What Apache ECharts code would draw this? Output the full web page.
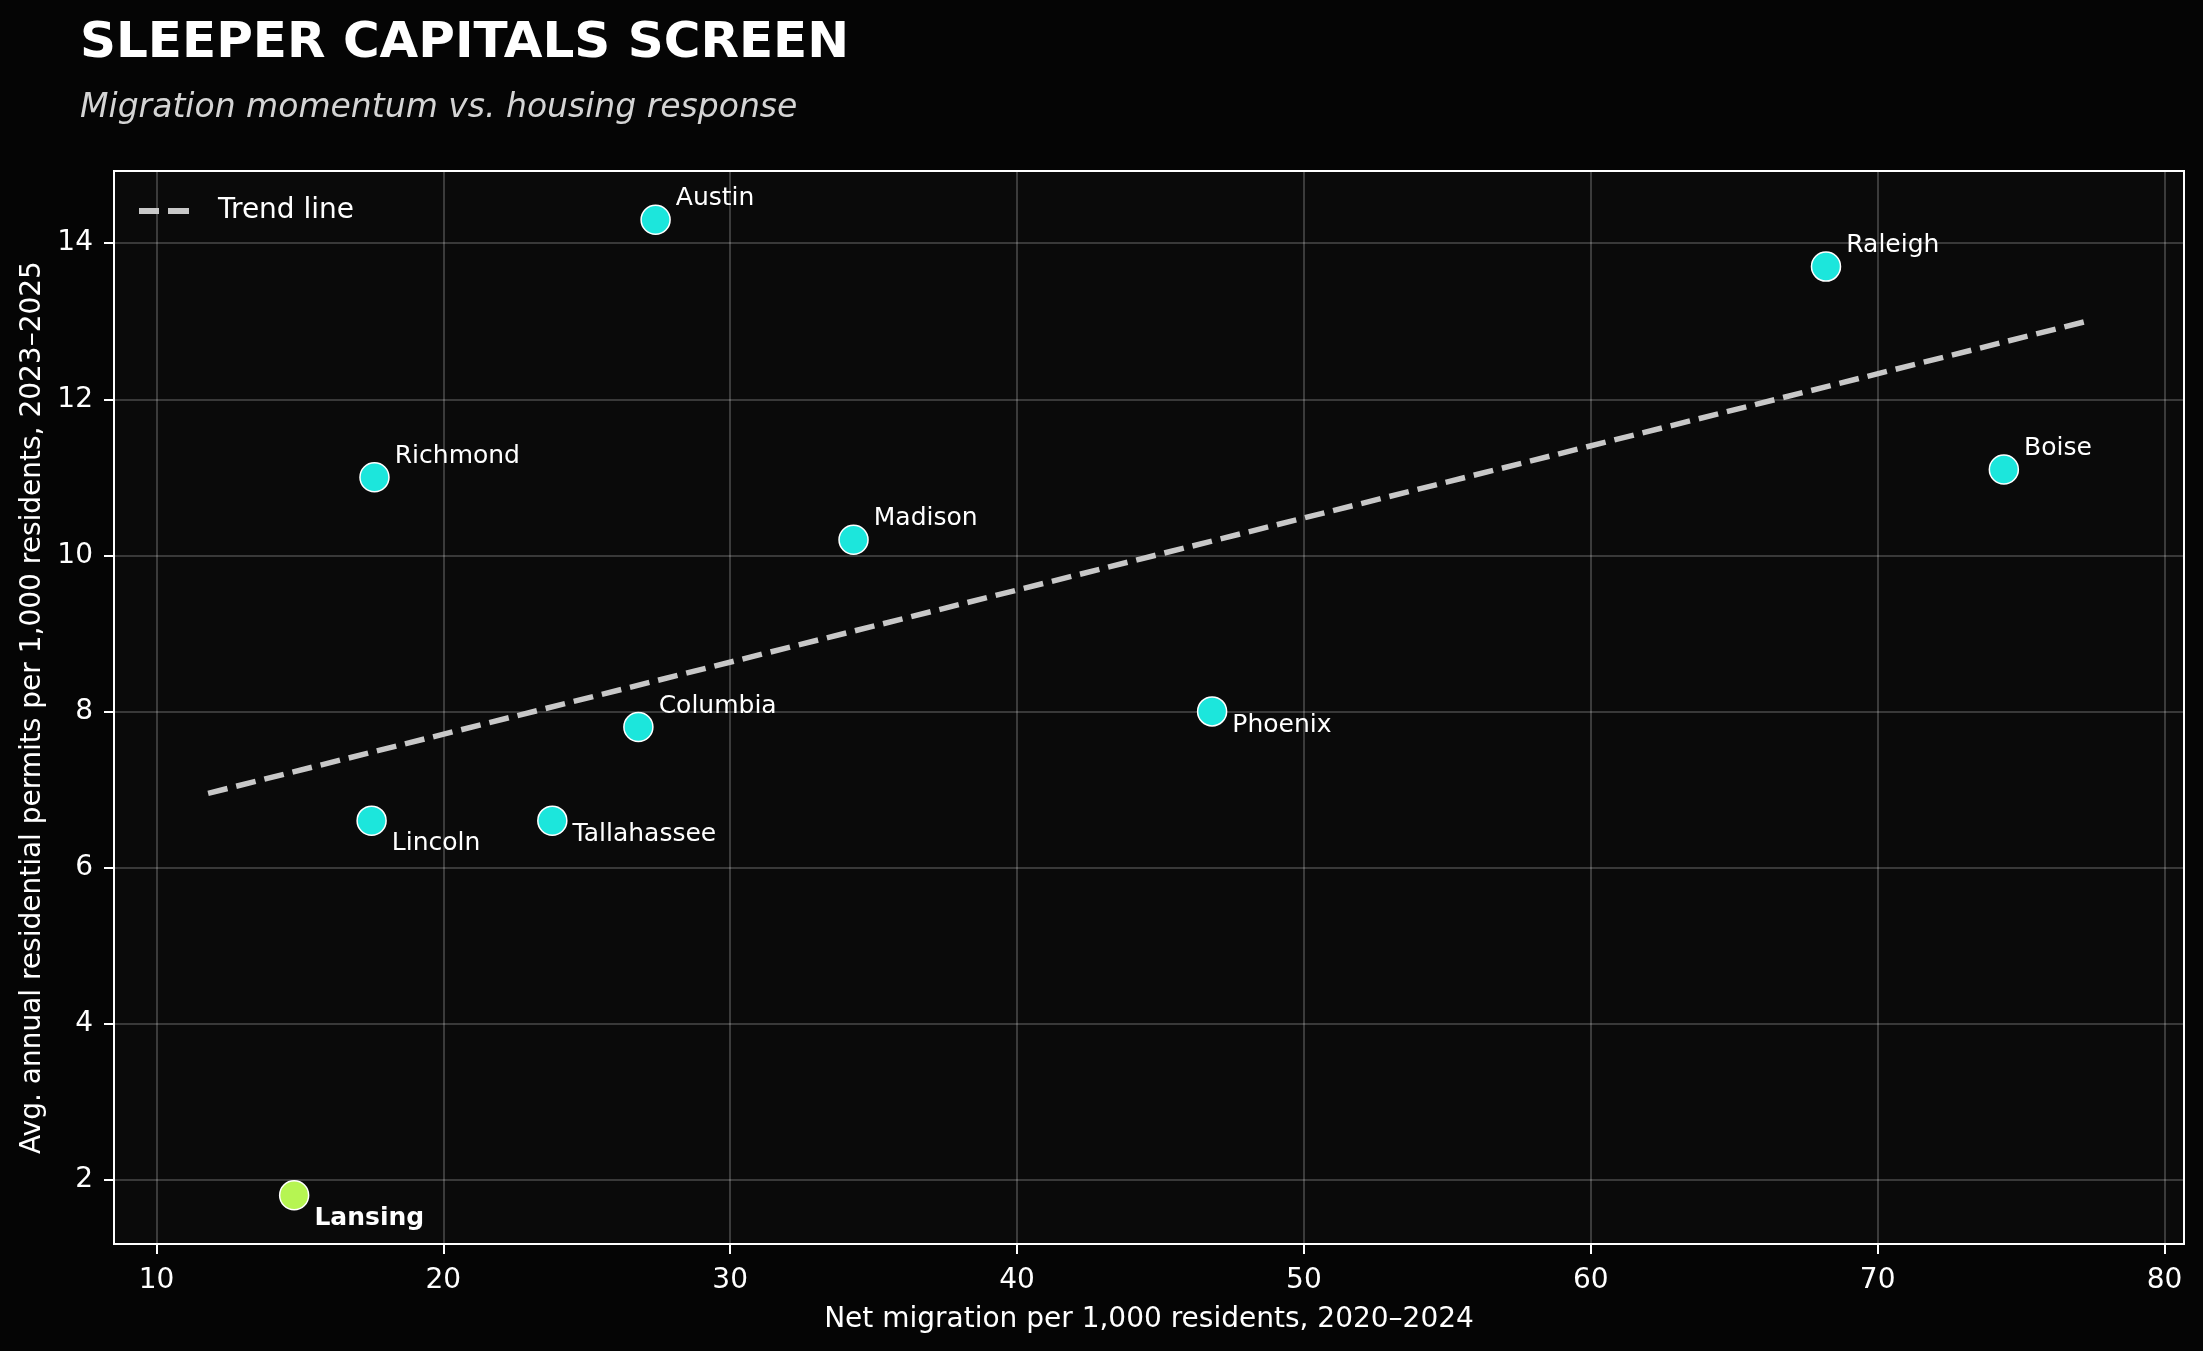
<!DOCTYPE html>
<html>
<head>
<meta charset="utf-8">
<script src="https://cdn.jsdelivr.net/npm/echarts@6/dist/echarts.min.js"></script>
<style>
html,body{margin:0;padding:0;background:#050505;}
#chart{width:2203px;height:1351px;}
</style>
</head>
<body>
<div id="chart"></div>
<script>
// ---- Data ----
const cities = ['Austin','Raleigh','Boise','Richmond','Madison','Columbia','Phoenix','Lincoln','Tallahassee','Lansing'];
const netMigration = [27.4, 68.2, 74.4, 17.6, 34.3, 26.8, 46.8, 17.5, 23.8, 14.8];
const permits = [14.3, 13.7, 11.1, 11.0, 10.2, 7.8, 8.0, 6.6, 6.6, 1.8];
const highlighted = ['Lansing'];
const trendX = [11.8, 77.4];
const trendY = [6.95, 13.01];
const xTicks = [10, 20, 30, 40, 50, 60, 70, 80];
const yTicks = [2, 4, 6, 8, 10, 12, 14];

// ---- Label placement (styling, not data) ----
const labelDy = { Phoenix: 14, Tallahassee: 14, Lincoln: 23, Lansing: 23 };
const LABEL_DY_ABOVE = -21;
const FONT = 'DejaVu Sans';
const CYAN = '#1ce6dc';
const LIME = '#b6f552';
const TREND = '#c8c8c8';

const chart = echarts.init(document.getElementById('chart'), null, {renderer: 'canvas'});

const scatterData = cities.map((c, i) => {
  const hi = highlighted.includes(c);
  return {
    name: c,
    value: [netMigration[i], permits[i]],
    itemStyle: { color: hi ? LIME : CYAN },
    label: {
      offset: [0, labelDy[c] !== undefined ? labelDy[c] : LABEL_DY_ABOVE],
      fontWeight: hi ? 'bold' : 'normal'
    }
  };
});

const axisCommon = {
  type: 'value',
  axisLine: { show: true, lineStyle: { color: '#ffffff', width: 2 } },
  axisTick: { show: true, length: 10, lineStyle: { color: '#ffffff', width: 2 } },
  splitLine: { show: true, lineStyle: { color: 'rgba(255,255,255,0.26)', width: 1.6 } },
  axisLabel: { color: '#ffffff', fontFamily: FONT, fontSize: 28 },
  nameTextStyle: { color: '#ffffff', fontFamily: FONT, fontSize: 28 },
  nameLocation: 'middle'
};

// dashed legend swatch (two dashes, centred in a 50x40 box)
const dashIcon = 'path://M0,17H20V23H0Z M29,17H50V23H29Z M0,0H0.01V0.01H0Z M49.99,39.99H50V40H49.99Z';

const option = {
  backgroundColor: '#050505',
  animation: false,
  textStyle: { fontFamily: FONT },
  title: [
    { text: 'SLEEPER CAPITALS SCREEN', left: 80, top: 19, padding: 0,
      textStyle: { color: '#ffffff', fontFamily: FONT, fontSize: 50, fontWeight: 'bold' } },
    { text: 'Migration momentum vs. housing response', left: 80, top: 92, padding: 0,
      textStyle: { color: '#d4d4d4', fontFamily: FONT, fontSize: 33, fontStyle: 'italic', fontWeight: 'normal' } }
  ],
  legend: {
    data: [{ name: 'Trend line', icon: dashIcon }],
    left: 139, top: 191,
    itemWidth: 50, itemHeight: 40,
    padding: 0,
    itemStyle: { color: TREND, borderWidth: 0 },
    textStyle: { color: '#ffffff', fontFamily: FONT, fontSize: 28, padding: [0, 0, 6, 24] }
  },
  grid: {
    left: 114, right: 19, top: 171, bottom: 107,
    show: true, backgroundColor: '#0a0a0a', borderColor: '#ffffff', borderWidth: 2,
    containLabel: false
  },
  xAxis: Object.assign({}, axisCommon, {
    min: 8.52, max: 80.68,
    name: 'Net migration per 1,000 residents, 2020\u20132024',
    nameGap: 62,
    axisTick: Object.assign({}, axisCommon.axisTick, { customValues: xTicks }),
    axisLabel: Object.assign({}, axisCommon.axisLabel, { customValues: xTicks, margin: 23,
      formatter: v => xTicks.includes(v) ? String(v) : '' })
  }),
  yAxis: Object.assign({}, axisCommon, {
    min: 1.175, max: 14.925,
    name: 'Avg. annual residential permits per 1,000 residents, 2023\u20132025',
    nameGap: 65,
    axisTick: Object.assign({}, axisCommon.axisTick, { customValues: yTicks }),
    axisLabel: Object.assign({}, axisCommon.axisLabel, { customValues: yTicks, margin: 21,
      formatter: v => yTicks.includes(v) ? String(v) : '' })
  }),
  series: [
    {
      name: 'Trend line',
      type: 'line',
      data: trendX.map((x, i) => [x, trendY[i]]),
      showSymbol: false,
      symbol: 'none',
      z: 2,
      lineStyle: { color: TREND, width: 5.5, type: [20, 9] },
      itemStyle: { color: TREND },
      emphasis: { disabled: true }
    },
    {
      name: 'Cities',
      type: 'scatter',
      z: 3,
      symbol: 'circle',
      symbolSize: 29,
      itemStyle: { borderColor: '#ffffff', borderWidth: 1.5, opacity: 1 },
      label: {
        show: true,
        position: 'right',
        distance: 5,
        formatter: p => p.name,
        color: '#ffffff',
        fontFamily: FONT,
        fontSize: 25
      },
      data: scatterData,
      emphasis: { disabled: true }
    }
  ]
};

chart.setOption(option);
</script>
</body>
</html>
